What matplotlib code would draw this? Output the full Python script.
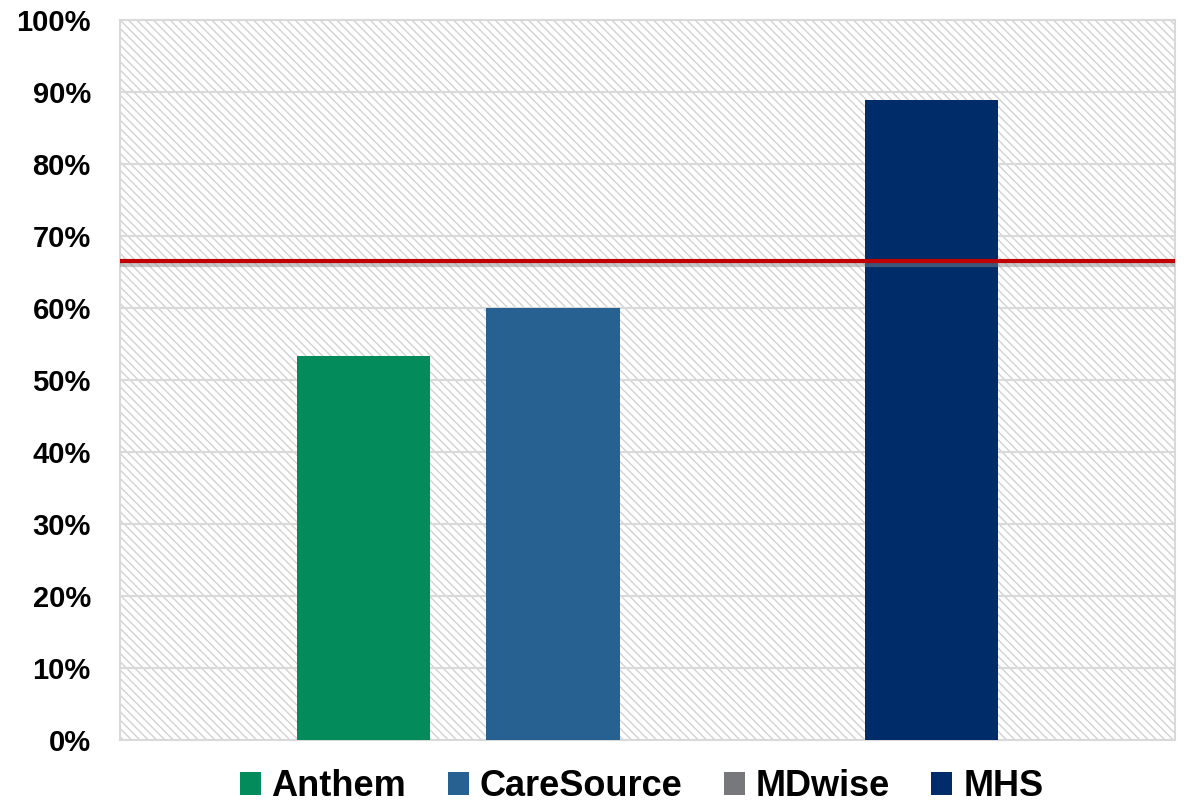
import numpy as np
import matplotlib
matplotlib.use("Agg")
import matplotlib.pyplot as plt
from matplotlib.patches import Rectangle
import matplotlib.patheffects as pe

plans = ["Anthem", "CareSource", "MDwise", "MHS"]
values = [53.3, 60.0, np.nan, 88.9]
colors = ["#038B5C", "#266192", "#77787B", "#002D6A"]
target = 66.5
yticks = [0, 10, 20, 30, 40, 50, 60, 70, 80, 90, 100]
ytick_labels = [f"{t}%" for t in yticks]

plt.rcParams['font.family'] = ['Liberation Sans', 'DejaVu Sans']
plt.rcParams['hatch.linewidth'] = 1.0

fig = plt.figure(figsize=(11.88, 8.07), dpi=100)
ax = fig.add_axes([120/1188, 67/807, 1055/1188, 720/807])

# hatched background
bg = Rectangle((0, 0), 1, 1, transform=ax.transAxes, facecolor="white",
               edgecolor="#d2d2d2", linewidth=0, hatch="\\\\\\\\", zorder=0)
ax.add_patch(bg)

x = np.arange(len(plans))
for xi, v, c, name in zip(x, values, colors, plans):
    ax.bar(xi, v, width=0.704, color=c, label=name, zorder=3)

ax.axhline(target, color="#C00000", lw=3, zorder=4,
           path_effects=[pe.SimpleLineShadow(offset=(0, -2.5), shadow_color="#888888", alpha=0.45),
                         pe.Normal()])

ax.set_xlim(-1.29, 4.29)
ax.set_ylim(0, 100)
ax.set_yticks(yticks)
ax.set_yticklabels(ytick_labels, fontsize=21, fontweight="bold")
ax.set_xticks([])
ax.tick_params(axis="y", length=0, pad=21)
ax.yaxis.grid(True, color="#d9d9d9", lw=1.5, zorder=1)
ax.set_axisbelow(True)
for s in ax.spines.values():
    s.set_color("#d9d9d9")
    s.set_linewidth(1.5)

fig.legend(loc="center", bbox_to_anchor=(0.54, 0.025), ncol=4, frameon=False,
           prop={"size": 26, "weight": "bold"}, handlelength=0.58, handleheight=0.58,
           handletextpad=0.3, columnspacing=1.15, borderaxespad=0, borderpad=0)

fig.savefig("out.png", dpi=100)
